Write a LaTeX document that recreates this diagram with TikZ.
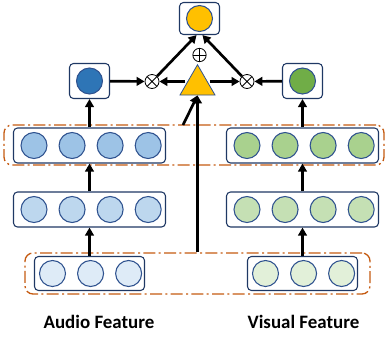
\documentclass[tikz,border=0pt]{standalone}
\usepackage{fontspec}
\setsansfont{Carlito}
\usepackage{tikz}
\usetikzlibrary{positioning,shapes.geometric,arrows.meta}

\definecolor{boxline}{HTML}{1F3864}
\definecolor{ballline}{HTML}{2F528F}
\definecolor{grpline}{HTML}{C55A11}
\definecolor{aout}{HTML}{2E75B6}
\definecolor{vout}{HTML}{70AD47}
\definecolor{fused}{HTML}{FFC000}
\definecolor{aup}{HTML}{9DC3E6}
\definecolor{amid}{HTML}{BDD7EE}
\definecolor{alow}{HTML}{DEEBF7}
\definecolor{vup}{HTML}{A9D18E}
\definecolor{vmid}{HTML}{C5E0B4}
\definecolor{vlow}{HTML}{E2F0D9}

\begin{document}
\begin{tikzpicture}[x=0.75pt, y=-0.75pt, node distance=8.25pt,
        box/.style={draw=boxline, line width=0.8pt, rounded corners=3pt, fill=white, minimum height=26.25pt, inner sep=0pt},
        ball/.style={circle, draw=ballline, line width=0.8pt, minimum size=19.5pt, inner sep=0pt},
        group/.style={draw=grpline, line width=1pt, rounded corners=6pt, dash pattern=on 9pt off 2.5pt on 1.5pt off 2.5pt, inner sep=0pt},
        otimes/.style={circle, draw, line width=0.6pt, minimum size=10.5pt, inner sep=0pt, fill=white,
            path picture={\draw[line width=0.6pt] (path picture bounding box.north west) -- (path picture bounding box.south east)
                (path picture bounding box.north east) -- (path picture bounding box.south west);}},
        oplus/.style={circle, draw, line width=0.6pt, minimum size=10pt, inner sep=0pt, fill=white,
            path picture={\draw[line width=0.6pt] (path picture bounding box.north) -- (path picture bounding box.south)
                (path picture bounding box.west) -- (path picture bounding box.east);}},
        label/.style={font=\sffamily\bfseries\fontsize{14.2}{16}\selectfont},
        >={Triangle[length=6pt,width=6.5pt]}
    ]
        \useasboundingbox (0,0) rectangle (386,337);

        % dashed groups
        \node [group, minimum width=285pt, minimum height=30pt] (dup) at (194,145) {};
        \node [group, minimum width=258.75pt, minimum height=30.75pt] (dlow) at (197.5,273.5) {};

        % boxes
        \node [box, minimum width=30pt, minimum height=24pt] (top) at (199.5,18.5) {};
        \node [box, minimum width=30pt] (abox) at (89.5,81) {};
        \node [box, minimum width=30pt] (vbox) at (302.5,81) {};
        \node [box, minimum width=114pt] (aupbox) at (89.5,145.5) {};
        \node [box, minimum width=114pt] (vupbox) at (302.5,145.5) {};
        \node [box, minimum width=114pt] (amidbox) at (89.5,209.5) {};
        \node [box, minimum width=114pt] (vmidbox) at (302.5,209.5) {};
        \node [box, minimum width=82.5pt, minimum height=25.5pt] (alowbox) at (89.5,273.5) {};
        \node [box, minimum width=82.5pt, minimum height=25.5pt] (vlowbox) at (302.5,273.5) {};

        % output balls
        \node [ball, fill=fused] (fout) at (199.5,18.5) {};
        \node [ball, fill=aout] (aball) at (89.5,81) {};
        \node [ball, fill=vout] (vball) at (302.5,81) {};

        % audio rows
        \node [ball, fill=aup] (au1) at (34,145.5) {};
        \node [ball, fill=aup, right=of au1] (au2) {};
        \node [ball, fill=aup, right=of au2] (au3) {};
        \node [ball, fill=aup, right=of au3] (au4) {};
        \node [ball, fill=amid] (am1) at (34,209.5) {};
        \node [ball, fill=amid, right=of am1] (am2) {};
        \node [ball, fill=amid, right=of am2] (am3) {};
        \node [ball, fill=amid, right=of am3] (am4) {};
        \node [ball, fill=alow] (al1) at (52.5,273.5) {};
        \node [ball, fill=alow, right=of al1] (al2) {};
        \node [ball, fill=alow, right=of al2] (al3) {};

        % visual rows
        \node [ball, fill=vup] (vu1) at (247,145.5) {};
        \node [ball, fill=vup, right=of vu1] (vu2) {};
        \node [ball, fill=vup, right=of vu2] (vu3) {};
        \node [ball, fill=vup, right=of vu3] (vu4) {};
        \node [ball, fill=vmid] (vm1) at (247,209.5) {};
        \node [ball, fill=vmid, right=of vm1] (vm2) {};
        \node [ball, fill=vmid, right=of vm2] (vm3) {};
        \node [ball, fill=vmid, right=of vm3] (vm4) {};
        \node [ball, fill=vlow] (vl1) at (265.5,273.5) {};
        \node [ball, fill=vlow, right=of vl1] (vl2) {};
        \node [ball, fill=vlow, right=of vl2] (vl3) {};

        % attention and fusion
        \node [regular polygon, regular polygon sides=3, minimum size=30.3pt, inner sep=0pt, fill=fused, draw=ballline, line width=0.6pt] (tri) at (197.5,84.9) {};
        \node [otimes] (ml) at (152,81.5) {};
        \node [otimes] (mr) at (247,81.5) {};
        \node [oplus] (sum) at (199.5,55) {};
        \coordinate (dtap) at (183,125);

        \node [label] (alab) at (99,322) {Audio Feature};
        \node [label] (vlab) at (303.5,322) {Visual Feature};

        \begin{scope}[line width=2pt]
        \draw [->] (alowbox) -- (amidbox);
        \draw [->] (amidbox) -- (aupbox);
        \draw [->] (aupbox) -- (abox);
        \draw [->] (vlowbox) -- (vmidbox);
        \draw [->] (vmidbox) -- (vupbox);
        \draw [->] (vupbox) -- (vbox);
        \draw [->] (abox) -- (ml);
        \draw [->] (vbox) -- (mr);
        \draw [->] (tri.west |- ml) -- (ml);
        \draw [->] (tri.east |- mr) -- (mr);
        \draw [->] (ml) -- (top.-100);
        \draw [->] (mr) -- (top.-80);
        \draw [->] (dlow.north) -- (tri.south);
        \draw [->] (dtap) -- (tri.south);
        \end{scope}
    \end{tikzpicture}
\end{document}
